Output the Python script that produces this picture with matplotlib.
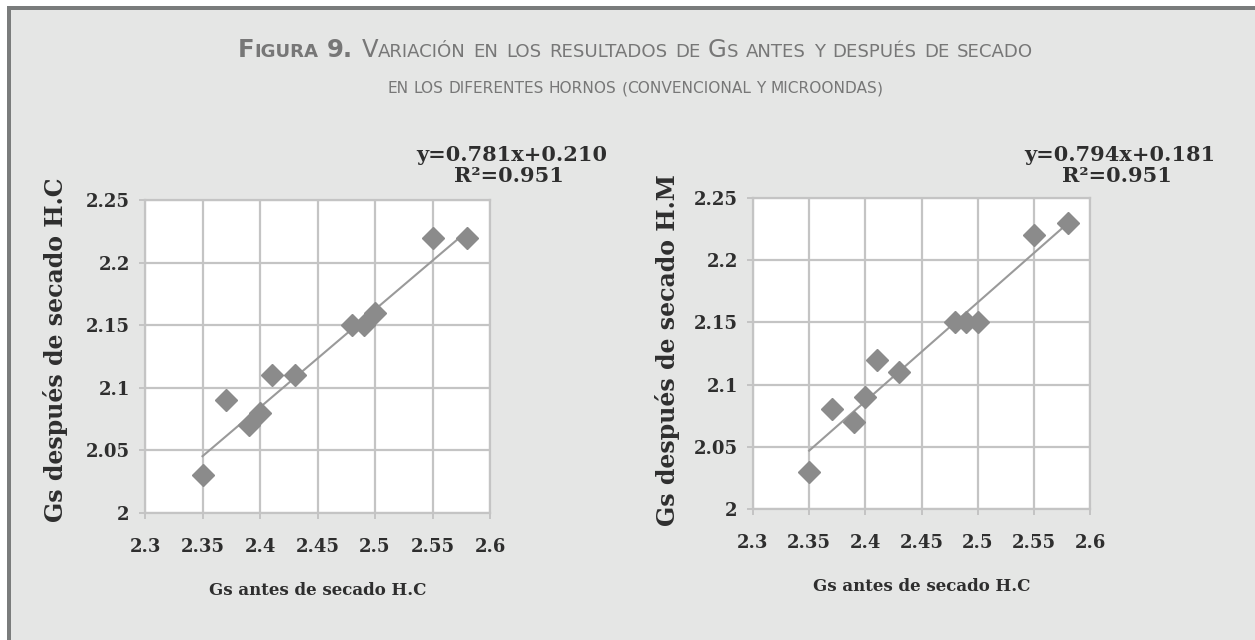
import matplotlib
matplotlib.use("Agg")
import matplotlib.pyplot as plt
from matplotlib.patches import Rectangle

# datos
gs_antes = [2.35, 2.37, 2.39, 2.40, 2.41, 2.43, 2.48, 2.49, 2.50, 2.55, 2.58]
gs_hc = [2.03, 2.09, 2.07, 2.08, 2.11, 2.11, 2.15, 2.15, 2.16, 2.22, 2.22]
gs_hm = [2.03, 2.08, 2.07, 2.09, 2.12, 2.11, 2.15, 2.15, 2.15, 2.22, 2.23]

x_ticks = [2.3, 2.35, 2.4, 2.45, 2.5, 2.55, 2.6]
x_ticklabels = ["2.3", "2.35", "2.4", "2.45", "2.5", "2.55", "2.6"]
y_ticks = [2.0, 2.05, 2.1, 2.15, 2.2, 2.25]
y_ticklabels = ["2", "2.05", "2.1", "2.15", "2.2", "2.25"]

fit_hc = (0.781, 0.210)
fit_hm = (0.794, 0.181)
eq_hc = ["y=0.781x+0.210", "R²=0.951"]
eq_hm = ["y=0.794x+0.181", "R²=0.951"]

title_1 = "Figura 9. Variación en los resultados de Gs antes y después de secado"
title_2 = "en los diferentes hornos (convencional y microondas)"

W, H = 1255, 640
dpi = 100
fig = plt.figure(figsize=(W / dpi, H / dpi), dpi=dpi)
fig.patch.set_facecolor("white")

# fondo gris con borde oscuro arriba e izquierda
fig.patches.append(Rectangle((7 / W, 0), 1, 1 - 6 / H, transform=fig.transFigure,
                             facecolor="#e5e6e5", edgecolor="none", zorder=-10))
fig.patches.append(Rectangle((7 / W, 1 - 10 / H), 1, 4 / H, transform=fig.transFigure,
                             facecolor="#7a7c7c", edgecolor="none", zorder=-9))
fig.patches.append(Rectangle((7 / W, 0), 4 / W, 1 - 6 / H, transform=fig.transFigure,
                             facecolor="#7a7c7c", edgecolor="none", zorder=-9))

serif = "DejaVu Serif"
txt_col = "#2e2e2e"


def small_caps(text, y_px, big, small, color="#777777", bold_words=0):
    # versalitas simuladas: mayusculas grandes, minusculas en pequeño
    renderer = fig.canvas.get_renderer()
    runs = []
    words = text.split(" ")
    for i, w in enumerate(words):
        weight = "bold" if i < bold_words else "normal"
        cur = ""
        cur_big = None
        for ch in w:
            is_big = not ch.islower()
            if cur_big is None or is_big == cur_big:
                cur += ch
            else:
                runs.append((cur.upper(), cur_big, weight))
                cur = ch
            cur_big = is_big
        runs.append((cur.upper(), cur_big, weight))
        if i < len(words) - 1:
            runs.append((" ", True, weight))
    objs = []
    for s, is_big, weight in runs:
        t = fig.text(0, 0, s.replace(" ", "\u00a0"), fontsize=big if is_big else small,
                     color=color, fontweight=weight, family="DejaVu Sans",
                     va="baseline", ha="left")
        objs.append(t)
    widths = [t.get_window_extent(renderer).width for t in objs]
    total = sum(widths)
    x = W / 2 + 8 - total / 2
    for t, w in zip(objs, widths):
        t.set_position((x / W, 1 - y_px / H))
        x += w


small_caps(title_1, 57, 17.5, 13.1, bold_words=2)
small_caps(title_2, 93, 11.1, 11.1)


def panel(rect, ys, fit, eq, ylabel, ylab_x, eq_x):
    ax = fig.add_axes(rect)
    ax.set_facecolor("white")
    ax.set_xlim(2.3, 2.6)
    ax.set_ylim(2.0, 2.25)
    ax.set_xticks(x_ticks)
    ax.set_xticklabels(x_ticklabels)
    ax.set_yticks(y_ticks)
    ax.set_yticklabels(y_ticklabels)
    ax.grid(True, color="#c4c4c4", linewidth=1.6)
    ax.set_axisbelow(True)
    for s in ax.spines.values():
        s.set_color("#c4c4c4")
        s.set_linewidth(1.6)
    ax.tick_params(length=4, width=1.4, color="#c4c4c4", labelsize=13,
                   labelcolor=txt_col)
    ax.tick_params(axis="x", pad=14)
    ax.tick_params(axis="y", pad=7)
    for lab in ax.get_xticklabels() + ax.get_yticklabels():
        lab.set_family(serif)
        lab.set_fontweight("bold")

    m, b = fit
    x0, x1 = min(gs_antes), max(gs_antes)
    ax.plot([x0, x1], [m * x0 + b, m * x1 + b], color="#9a9a9a", linewidth=1.5, zorder=2)
    ax.plot(gs_antes, ys, linestyle="none", marker="D", markersize=11,
            color="#8b8b8b", zorder=3)

    ax.set_xlabel("Gs antes de secado H.C", family=serif, fontweight="bold",
                  fontsize=12, color=txt_col)
    ax.xaxis.set_label_coords(0.5, -0.222)
    fig.text(ylab_x / W, 1 - 350 / H, ylabel, rotation=90, family=serif,
             fontweight="bold", fontsize=17, color=txt_col, ha="center", va="center")
    fig.text((eq_x + 3) / W, 1 - 155 / H, eq[0], family=serif, fontweight="bold",
             fontsize=15, color=txt_col, ha="center", va="center")
    fig.text(eq_x / W, 1 - 176 / H, eq[1], family=serif, fontweight="bold",
             fontsize=15, color=txt_col, ha="center", va="center")
    return ax


panel([145 / W, 1 - 513 / H, 345 / W, 313 / H], gs_hc, fit_hc, eq_hc,
      "Gs después de secado H.C", 56, 509)
panel([753 / W, 1 - 509 / H, 337 / W, 311 / H], gs_hm, fit_hm, eq_hm,
      "Gs después de secado H.M", 667, 1117)

fig.savefig("out.png", dpi=dpi, facecolor=fig.get_facecolor())
